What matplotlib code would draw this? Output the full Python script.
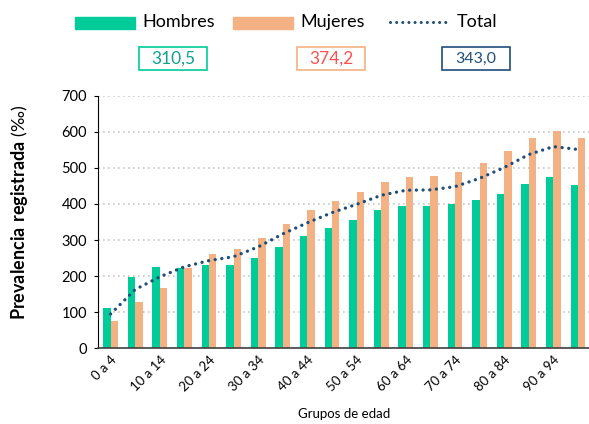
import numpy as np
import matplotlib.pyplot as plt
from matplotlib.patches import Rectangle
from matplotlib.lines import Line2D

plt.rcParams['font.family'] = ['Lato', 'DejaVu Sans']
plt.rcParams['mathtext.fontset'] = 'custom'
plt.rcParams['mathtext.bf'] = 'Lato:bold'
plt.rcParams['mathtext.rm'] = 'Lato'

grupos = ["0 a 4", "5 a 9", "10 a 14", "15 a 19", "20 a 24", "25 a 29", "30 a 34",
          "35 a 39", "40 a 44", "45 a 49", "50 a 54", "55 a 59", "60 a 64", "65 a 69",
          "70 a 74", "75 a 79", "80 a 84", "85 a 89", "90 a 94", "95 y más"]
hombres = [112, 197, 226, 222, 231, 231, 251, 281, 311, 333,
           355, 383, 394, 394, 399, 410, 427, 456, 474, 452]
mujeres = [75, 128, 167, 223, 260, 276, 307, 344, 382, 408,
           433, 460, 475, 478, 488, 513, 547, 582, 601, 582]
total = [95, 163, 198, 226, 243, 254, 281, 317, 348, 376,
         399, 424, 438, 439, 448, 471, 501, 537, 559, 551]
resumen = ["310,5", "374,2", "343,0"]

c_h = "#00CC99"
c_m = "#F4B183"
c_t = "#1F4E79"
puntos = (0, (0.01, 2.0))

fig = plt.figure(figsize=(5.89, 4.24), dpi=100)
ax = fig.add_axes([98.3/589, 1-348.3/424, 492/589, (348.3-95.7)/424])

x = np.arange(len(grupos))
w = 0.3
ax.bar(x - w/2, hombres, w, color=c_h, zorder=2)
ax.bar(x + w/2, mujeres, w, color=c_m, zorder=2)
ax.plot(x, total, color=c_t, lw=2.4, ls=puntos, dash_capstyle='round', zorder=3)

ax.set_xlim(-0.5, 19.5)
ax.set_ylim(0, 700)
ax.set_yticks(range(0, 701, 100))
ax.yaxis.grid(True, color="#c8c8c8", ls=(0, (1, 2)), lw=1.2, zorder=0)
ax.set_axisbelow(True)
ax.tick_params(axis='y', direction='out', length=3, labelsize=10.5, pad=5, color='black')
ax.set_xticks(x[::2])
ax.set_xticklabels(grupos[::2], rotation=45, ha='right', rotation_mode='anchor', fontsize=9.5)
ax.tick_params(axis='x', length=0, pad=4)
for s in ['top', 'right']:
    ax.spines[s].set_visible(False)
ax.spines['left'].set_color('black')
ax.spines['bottom'].set_color('#404040')
ax.spines['bottom'].set_linewidth(1.2)

fig.text(20/589, 1-212/424, r"$\bf{Prevalencia\ registrada}$ (‰)", fontsize=13,
         rotation=90, ha='center', va='center')
ax.set_xlabel("Grupos de edad", fontsize=9.5, labelpad=10)

# leyenda superior
def fx(px):
    return px / 589

def fy(py):
    return 1 - py / 424

fig.patches.append(Rectangle((fx(75), fy(29)), fx(60), 12/424, color=c_h, transform=fig.transFigure))
fig.text(fx(142), fy(22), "Hombres", fontsize=13, va='center')
fig.patches.append(Rectangle((fx(233), fy(29)), fx(60), 12/424, color=c_m, transform=fig.transFigure))
fig.text(fx(300), fy(22), "Mujeres", fontsize=13, va='center')
fig.lines.append(Line2D([fx(390), fx(447)], [fy(22), fy(22)], color=c_t, lw=2.2,
                        ls=puntos, dash_capstyle='round', transform=fig.transFigure))
fig.text(fx(457), fy(22), "Total", fontsize=13, va='center')

cajas = [(139, c_h, "#11A08E"), (297, c_m, "#FF5050"), (442, c_t, c_t)]
for (x0, borde, ctxt), val in zip(cajas, resumen):
    fig.patches.append(Rectangle((fx(x0), fy(70)), fx(68), 23/424, fill=False,
                                 edgecolor=borde, lw=1.2, transform=fig.transFigure))
    fig.text(fx(x0 + 34), fy(58.5), val, fontsize=12.5 if val != "343,0" else 11.5,
             color=ctxt, ha='center', va='center')

fig.savefig("out.png", dpi=100)
